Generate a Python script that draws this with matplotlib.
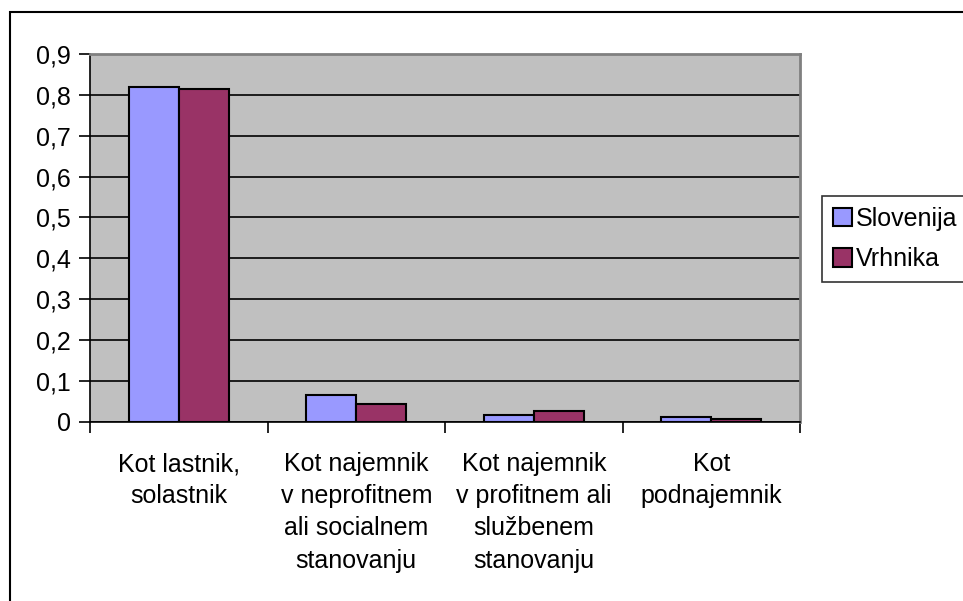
import matplotlib.pyplot as plt
from matplotlib.patches import Rectangle
import numpy as np

categories = ["Kot lastnik,\nsolastnik",
              "Kot najemnik\nv neprofitnem\nali socialnem\nstanovanju",
              "Kot najemnik\nv profitnem ali\nslužbenem\nstanovanju",
              "Kot\npodnajemnik"]
slovenija = [0.818, 0.064, 0.015, 0.010]
vrhnika = [0.814, 0.044, 0.025, 0.006]
yticks = [0, 0.1, 0.2, 0.3, 0.4, 0.5, 0.6, 0.7, 0.8, 0.9]
ylabels = ["0", "0,1", "0,2", "0,3", "0,4", "0,5", "0,6", "0,7", "0,8", "0,9"]

plt.rcParams['font.family'] = ['Liberation Sans', 'DejaVu Sans']

fig = plt.figure(figsize=(9.63, 6.01), dpi=100)
ax = fig.add_axes([90/963, (601-421.5)/601, 710/963, 367.5/601])
ax.set_facecolor('#C0C0C0')

x = np.arange(len(categories))
w = 0.2817
ax.bar(x - w/2, slovenija, w, color='#9999FF', edgecolor='black', linewidth=1.5,
       label='Slovenija', zorder=3)
ax.bar(x + w/2, vrhnika, w, color='#993366', edgecolor='black', linewidth=1.5,
       label='Vrhnika', zorder=3)

ax.set_xlim(-0.5, 3.5)
ax.set_ylim(0, 0.9)
ax.set_yticks(yticks)
ax.set_yticklabels(ylabels, fontsize=18)
ax.set_xticks(x)
ax.set_xticklabels(categories, fontsize=18, linespacing=1.43, va='top')
ax.set_xticks(np.arange(-0.5, 4, 1), minor=True)
ax.tick_params(axis='x', which='major', length=0, pad=22)
ax.tick_params(axis='x', which='minor', length=8, width=1.2, direction='out')
ax.tick_params(axis='y', length=8, width=1.2, pad=6)
ax.yaxis.grid(True, color='black', linewidth=1.2, zorder=1)
ax.set_axisbelow(True)

for s in ['left', 'bottom']:
    ax.spines[s].set_color('black')
    ax.spines[s].set_linewidth(1.2)
for s in ['top', 'right']:
    ax.spines[s].set_color('#808080')
    ax.spines[s].set_linewidth(2)

leg = ax.legend(loc='upper left', bbox_to_anchor=(821.7/963, 1 - 195.7/601),
                bbox_transform=fig.transFigure, fontsize=18, frameon=True,
                fancybox=False, edgecolor='black', handlelength=0.75,
                handleheight=0.75, handletextpad=0.15, labelspacing=0.65,
                borderpad=0.45, borderaxespad=0)
leg.get_frame().set_linewidth(1.2)

# outer chart frame
fig.patches.append(Rectangle((10/963, -0.1), 1.2, 1 - 12/601 + 0.1,
                             transform=fig.transFigure, fill=False,
                             edgecolor='black', linewidth=1.5))

fig.savefig('out.png', dpi=100)
